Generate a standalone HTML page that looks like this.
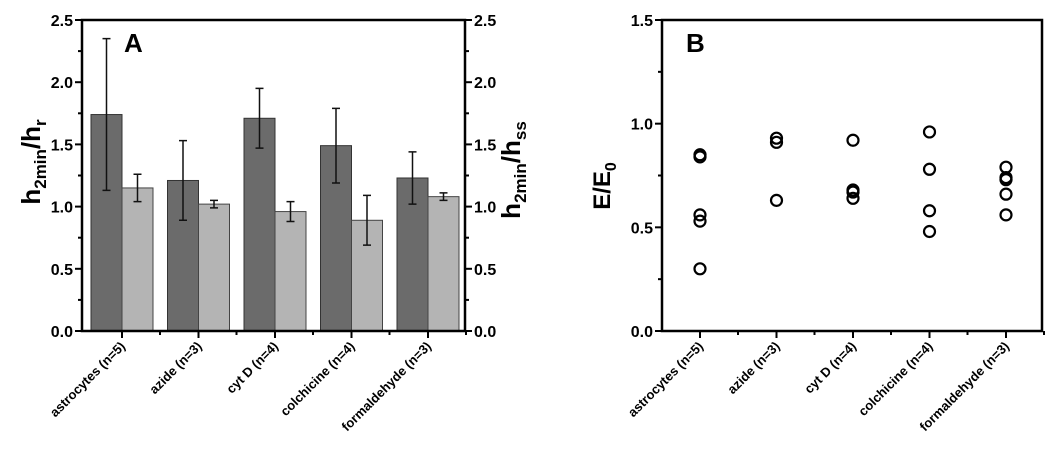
<!DOCTYPE html>
<html><head><meta charset="utf-8"><style>
body{margin:0;background:#fff;}
svg text{font-family:"Liberation Sans",Arial,sans-serif;font-weight:bold;}
</style></head><body>
<svg id="c" width="1050" height="445" viewBox="0 0 1050 445" xmlns="http://www.w3.org/2000/svg"></svg>
<script>
const categories=["astrocytes (n=5)","azide (n=3)","cyt D  (n=4)","colchicine (n=4)","formaldehyde (n=3)"];
const darkVals=[1.74,1.21,1.71,1.49,1.23];
const darkErr=[0.61,0.32,0.24,0.30,0.21];
const lightVals=[1.15,1.02,0.96,0.89,1.08];
const lightErr=[0.11,0.03,0.08,0.20,0.03];
const ticksA=[0,0.5,1.0,1.5,2.0,2.5];
const ticksB=[0,0.5,1.0,1.5];
const astroPts=[0.85,0.84,0.56,0.53,0.30];
const azidePts=[0.93,0.91,0.63];
const cytPts=[0.92,0.68,0.67,0.64];
const colchPts=[0.96,0.78,0.58,0.48];
const formPts=[0.79,0.74,0.73,0.66,0.56];
const scatter=[astroPts,azidePts,cytPts,colchPts,formPts];

const svg=document.getElementById('c');
const NS="http://www.w3.org/2000/svg";
function mk(tag,attrs,parent){const e=document.createElementNS(NS,tag);for(const k in attrs)e.setAttribute(k,attrs[k]);(parent||svg).appendChild(e);return e;}

// Panel A
const A={l:82,r:465,t:20,b:331,max:2.5};
const yA=v=>A.b-(v/A.max)*(A.b-A.t);
const xA=i=>122+i*76.5;
const gA=mk('g',{});


categories.forEach((c,i)=>{
  const cx=xA(i);
  const d=mk('rect',{x:cx-31,y:yA(darkVals[i]),width:31,height:A.b-yA(darkVals[i]),fill:'#6b6b6b',stroke:'#333','stroke-width':1},gA);
  
  
  const l=mk('rect',{x:cx,y:yA(lightVals[i]),width:31,height:A.b-yA(lightVals[i]),fill:'#b4b4b4',stroke:'#444','stroke-width':1},gA);
  
  
  [[cx-15.5,darkVals[i],darkErr[i]],[cx+15.5,lightVals[i],lightErr[i]]].forEach(([x,v,e])=>{
    const eb=mk('path',{d:`M${x} ${yA(v+e)}V${yA(v-e)}M${x-4} ${yA(v+e)}h8M${x-4} ${yA(v-e)}h8`,stroke:'#111','stroke-width':1.5,fill:'none'},gA);
    
    
  });
});
mk('rect',{x:A.l,y:A.t,width:A.r-A.l,height:A.b-A.t,fill:'none',stroke:'#000','stroke-width':2.5},gA);
for(let v=0;v<=2.5001;v+=0.25){
  const major=Math.abs(v*2-Math.round(v*2))<1e-6;
  const len=major?7:4;
  mk('line',{x1:A.l-len,x2:A.l,y1:yA(v),y2:yA(v),stroke:'#000','stroke-width':2},gA);
  mk('line',{x1:A.r,x2:A.r+len,y1:yA(v),y2:yA(v),stroke:'#000','stroke-width':2},gA);
}
ticksA.forEach(v=>{
  const t=mk('text',{x:A.l-9,y:yA(v)+6,'text-anchor':'end','font-size':16},gA);t.textContent=v.toFixed(1);
  
  const t2=mk('text',{x:A.r+9,y:yA(v)+6,'font-size':16},gA);t2.textContent=v.toFixed(1);
  
});
categories.forEach((c,i)=>{
  mk('line',{x1:xA(i),x2:xA(i),y1:A.b,y2:A.b+7,stroke:'#000','stroke-width':2},gA);
  mk('line',{x1:xA(i)+38,x2:xA(i)+38,y1:A.b,y2:A.b+4,stroke:'#000','stroke-width':2},gA);
  const t=mk('text',{x:xA(i)+4,y:A.b+16,'text-anchor':'end','font-size':13,transform:`rotate(-45 ${xA(i)+4} ${A.b+16})`},gA);
  t.textContent=c;
});
let ta=mk('text',{x:124,y:52,'font-size':26},gA);ta.textContent='A';

let yl=mk('text',{x:40,y:162,'text-anchor':'middle','font-size':26,transform:'rotate(-90 40 162)'},gA);
yl.innerHTML='h<tspan font-size="17" dy="6">2min</tspan><tspan dy="-6">/h</tspan><tspan font-size="17" dy="6">r</tspan>';

let yr=mk('text',{x:520,y:170,'text-anchor':'middle','font-size':26,transform:'rotate(-90 520 170)'},gA);
yr.innerHTML='h<tspan font-size="17" dy="6">2min</tspan><tspan dy="-6">/h</tspan><tspan font-size="17" dy="6">ss</tspan>';


// Panel B
const B={l:662,r:1042,t:20,b:331,max:1.5};
const yB=v=>B.b-(v/B.max)*(B.b-B.t);
const xB=i=>700+i*76.5;
const gB=mk('g',{});


mk('rect',{x:B.l,y:B.t,width:B.r-B.l,height:B.b-B.t,fill:'none',stroke:'#000','stroke-width':2.5},gB);
for(let v=0;v<=1.5001;v+=0.25){
  const major=Math.abs(v*2-Math.round(v*2))<1e-6;
  mk('line',{x1:B.l-(major?7:4),x2:B.l,y1:yB(v),y2:yB(v),stroke:'#000','stroke-width':2},gB);
}
ticksB.forEach(v=>{
  const t=mk('text',{x:B.l-9,y:yB(v)+6,'text-anchor':'end','font-size':16},gB);t.textContent=v.toFixed(1);
  
});
categories.forEach((c,i)=>{
  mk('line',{x1:xB(i),x2:xB(i),y1:B.b,y2:B.b+7,stroke:'#000','stroke-width':2},gB);
  mk('line',{x1:xB(i)+38,x2:xB(i)+38,y1:B.b,y2:B.b+4,stroke:'#000','stroke-width':2},gB);
  const t=mk('text',{x:xB(i)+4,y:B.b+16,'text-anchor':'end','font-size':13,transform:`rotate(-45 ${xB(i)+4} ${B.b+16})`},gB);
  t.textContent=c.replace('  ',' ');
  scatter[i].forEach(v=>{
    const p=mk('circle',{cx:xB(i),cy:yB(v),r:5.5,fill:'none',stroke:'#000','stroke-width':2.2},gB);
    
  });
});
let tb=mk('text',{x:686,y:52,'font-size':26},gB);tb.textContent='B';

let yb=mk('text',{x:610,y:186,'text-anchor':'middle','font-size':24,transform:'rotate(-90 610 186)'},gB);
yb.innerHTML='E/E<tspan font-size="16" dy="6">0</tspan>';

</script>
</body></html>
